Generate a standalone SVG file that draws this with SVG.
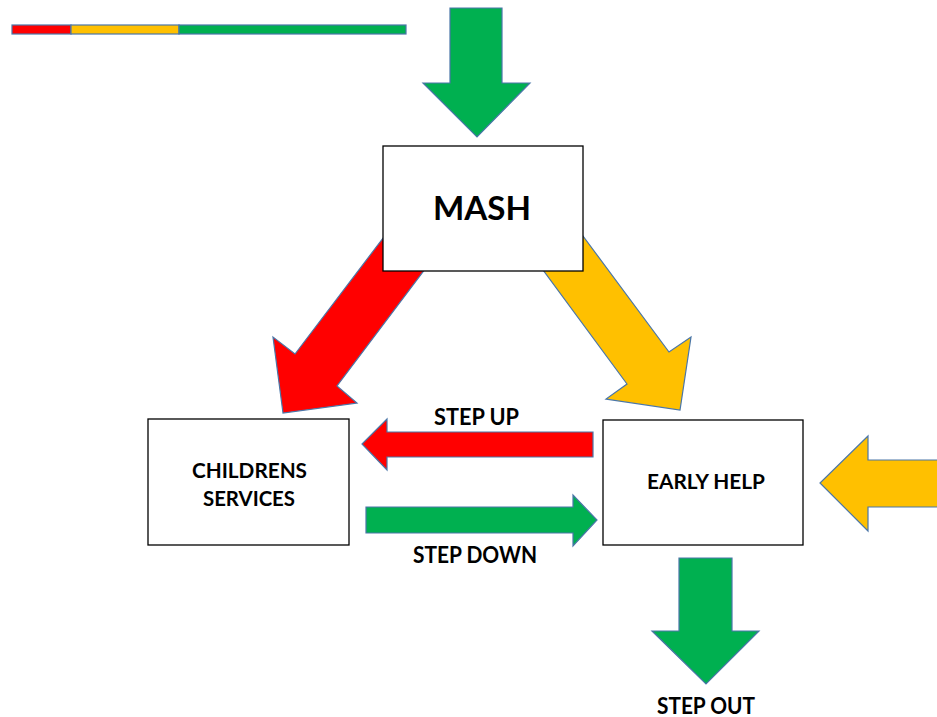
<svg xmlns="http://www.w3.org/2000/svg" width="937" height="717" viewBox="0 0 937 717">
<style>
.arrow{stroke:#4A76A8;stroke-width:1.2;stroke-linejoin:miter}
.red{fill:#FF0000}
.amber{fill:#FFC000}
.green{fill:#00B050}
.box{fill:#FFFFFF;stroke:#000000;stroke-width:1.3}
.lbl{font-family:Lato,"Open Sans","Liberation Sans",sans-serif;font-weight:bold;fill:#000000;text-anchor:middle}
</style>
<rect width="937" height="717" fill="#FFFFFF"/>
<g id="legend-bar">
<rect x="12" y="25" width="59" height="9" class="arrow red"/>
<rect x="71" y="25" width="108" height="9" class="arrow amber"/>
<rect x="179" y="25" width="227" height="9" class="arrow green"/>
</g>
<g id="connectors">
<polygon id="arrow-in-top" class="arrow green" points="450,8 502,8 502,83 530,83 477,137 423,83 450,83"/>
<polygon id="arrow-mash-cs" class="arrow red" points="412,200 453,232 337,386 357,403 283,413 273,337 295,354"/>
<polygon id="arrow-mash-eh" class="arrow amber" points="515,232 557,201 669,352 691,337 680,410 606,399 627,384"/>
<polygon id="arrow-step-up" class="arrow red" points="593,432 593,457 387,457 387,470 362,444 387,419 387,432"/>
<polygon id="arrow-step-down" class="arrow green" points="366,507 573,507 573,495 597,520 573,546 573,533 366,533"/>
<polygon id="arrow-in-right" class="arrow amber" points="940,460 868,460 868,436 820,483 868,531 868,507 940,507"/>
<polygon id="arrow-step-out" class="arrow green" points="679,558 732,558 732,631 759,631 706,684 652,631 679,631"/>
</g>
<g id="node-mash">
<rect x="383" y="146" width="200" height="125" class="box"/>
<text x="482" y="220" class="lbl" font-size="32.5" textLength="98" lengthAdjust="spacingAndGlyphs">MASH</text>
</g>
<g id="node-childrens-services">
<rect x="148" y="419" width="201" height="126" class="box"/>
<text x="249.5" y="477.5" class="lbl" font-size="20.5" textLength="115" lengthAdjust="spacingAndGlyphs">CHILDRENS</text>
<text x="249" y="505.5" class="lbl" font-size="20.5" textLength="92" lengthAdjust="spacingAndGlyphs">SERVICES</text>
</g>
<g id="node-early-help">
<rect x="603" y="420" width="200" height="125" class="box"/>
<text x="706" y="488.5" class="lbl" font-size="20.5" textLength="118" lengthAdjust="spacingAndGlyphs">EARLY HELP</text>
</g>
<g id="labels">
<text x="476.5" y="424.5" class="lbl" font-size="23" textLength="85" lengthAdjust="spacingAndGlyphs">STEP UP</text>
<text x="475" y="562.5" class="lbl" font-size="23" textLength="124" lengthAdjust="spacingAndGlyphs">STEP DOWN</text>
<text x="706" y="713.5" class="lbl" font-size="23" textLength="98" lengthAdjust="spacingAndGlyphs">STEP OUT</text>
</g>
</svg>
